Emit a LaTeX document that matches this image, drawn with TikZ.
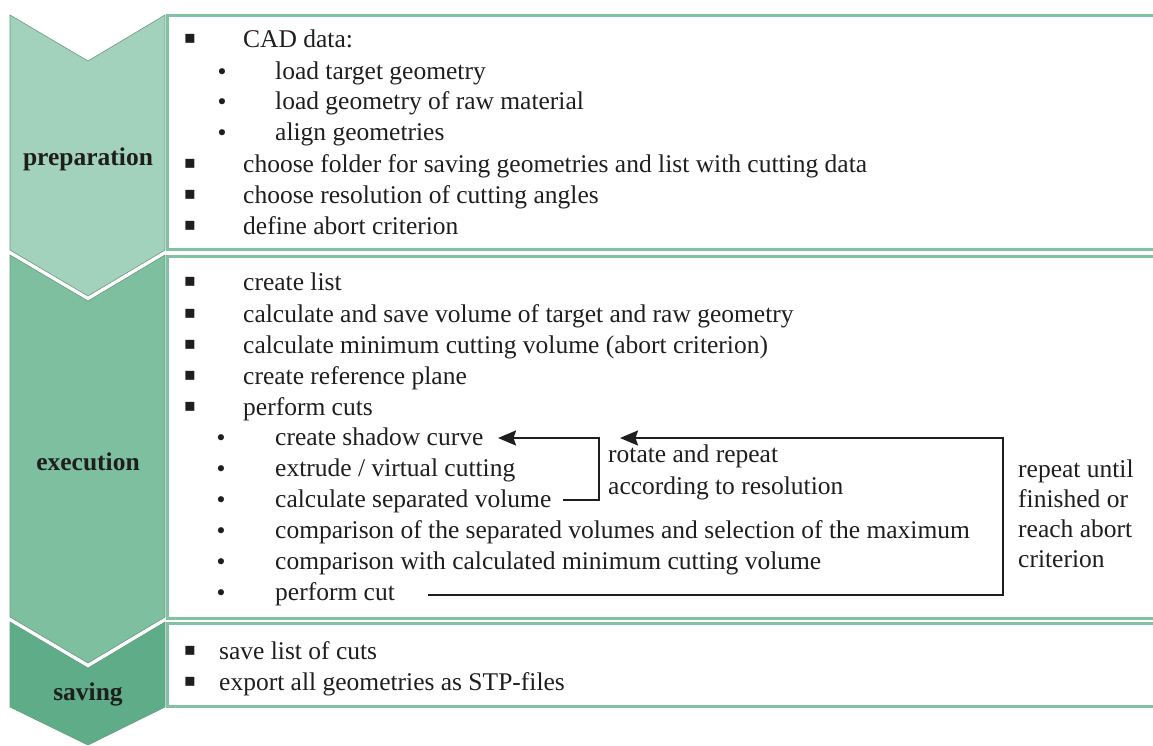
\documentclass[tikz,border=0pt]{standalone}
\usepackage{fontspec}
\setmainfont{Liberation Serif}
\newfontfamily\symfont{DejaVu Sans}
\usepackage{tikz}
\usetikzlibrary{arrows.meta}
\definecolor{prepgreen}{RGB}{163,210,188}
\definecolor{execgreen}{RGB}{125,191,159}
\definecolor{savegreen}{RGB}{95,173,136}
\definecolor{rimgreen}{RGB}{128,194,162}
\definecolor{txt}{RGB}{30,30,30}
\tikzset{phase/.style={draw=rimgreen!80!black,line width=0.6pt,line join=miter},
  pane/.style={draw=rimgreen,line width=3pt},
  item/.style={anchor=base west,inner sep=0pt,text=txt,font=\fontsize{25.5}{31}\selectfont},
  phasename/.style={anchor=base,inner sep=0pt,text=txt,font=\fontsize{25.5}{31}\selectfont\bfseries},
  sqb/.style={anchor=base,inner sep=0pt,text=txt,font=\symfont\fontsize{18}{18}\selectfont},
  rdb/.style={anchor=base,inner sep=0pt,text=txt,font=\symfont\fontsize{21}{21}\selectfont},
  loopline/.style={draw=txt,line width=2.2pt,-{Stealth[length=18pt,width=15pt,inset=2.5pt]}}}

\begin{document}
\begin{tikzpicture}[x=1pt,y=-1pt]
    \useasboundingbox (0,0) rectangle (1153,745);

    % chevrons
    \fill[prepgreen,phase] (10,15) -- (88,61) -- (165,15) -- (165,250) -- (88,296) -- (10,250) -- cycle;
    \fill[execgreen,phase] (10,255) -- (88,301) -- (165,255) -- (165,617) -- (88,663) -- (10,617) -- cycle;
    \fill[savegreen,phase] (10,622) -- (88,668) -- (165,622) -- (165,707) -- (88,745) -- (10,707) -- cycle;
    \node[phasename] (prep) at (88,165) {preparation};
    \node[phasename] (exec) at (88,470) {execution};
    \node[phasename] (save) at (88,700) {saving};

    % panes
    \draw[pane] (167,15) rectangle (1170,249);
    \draw[pane] (167,256) rectangle (1170,618);
    \draw[pane] (167,623) rectangle (1170,706);

    % preparation
    \node[item] (p1) at (243,47) {CAD data:};
    \node[item] (p2) at (275,79) {load target geometry};
    \node[item] (p3) at (275,109) {load geometry of raw material};
    \node[item] (p4) at (275,140) {align geometries};
    \node[item] (p5) at (243,172) {choose folder for saving geometries and list with cutting data};
    \node[item] (p6) at (243,203) {choose resolution of cutting angles};
    \node[item] (p7) at (243,234) {define abort criterion};
    \foreach \y [count=\i] in {47,172,203,234}
        \node[sqb] (psq\i) at (190,\y-4) {▪};
    \foreach \y [count=\i] in {79,109,140}
        \node[rdb] (prd\i) at (222,\y) {•};

    % execution
    \node[item] (e1) at (243,290) {create list};
    \node[item] (e2) at (243,322) {calculate and save volume of target and raw geometry};
    \node[item] (e3) at (243,353) {calculate minimum cutting volume (abort criterion)};
    \node[item] (e4) at (243,384) {create reference plane};
    \node[item] (e5) at (243,415) {perform cuts};
    \node[item] (e6) at (275,445) {create shadow curve};
    \node[item] (e7) at (275,476) {extrude / virtual cutting};
    \node[item] (e8) at (275,507) {calculate separated volume};
    \node[item] (e9) at (275,538) {comparison of the separated volumes and selection of the maximum};
    \node[item] (e10) at (275,569) {comparison with calculated minimum cutting volume};
    \node[item] (e11) at (275,600) {perform cut};
    \foreach \y [count=\i] in {290,322,353,384,415}
        \node[sqb] (esq\i) at (190,\y-4) {▪};
    \foreach \y [count=\i] in {445,476,507,538,569,600}
        \node[rdb] (erd\i) at (221,\y) {•};

    \node[item] (rot1) at (608,462) {rotate and repeat};
    \node[item] (rot2) at (608,494) {according to resolution};
    \node[item] (rep1) at (1018,477) {repeat until};
    \node[item] (rep2) at (1018,507) {finished or};
    \node[item] (rep3) at (1018,537) {reach abort};
    \node[item] (rep4) at (1018,567) {criterion};

    % loops
    \coordinate (sepEnd) at (563,500);
    \coordinate (innerTop) at (599,438);
    \coordinate (shadowTip) at (498,438);
    \coordinate (cutEnd) at (428,595);
    \coordinate (outerTop) at (1003,438);
    \coordinate (rotTip) at (620,438);
    \draw[loopline] (sepEnd) -| (innerTop) -- (shadowTip);
    \draw[loopline] (cutEnd) -| (outerTop) -- (rotTip);

    % saving
    \node[item] (s1) at (219,659) {save list of cuts};
    \node[item] (s2) at (219,690) {export all geometries as STP-files};
    \foreach \y [count=\i] in {659,690}
        \node[sqb] (ssq\i) at (190,\y-4) {▪};
\end{tikzpicture}
\end{document}
